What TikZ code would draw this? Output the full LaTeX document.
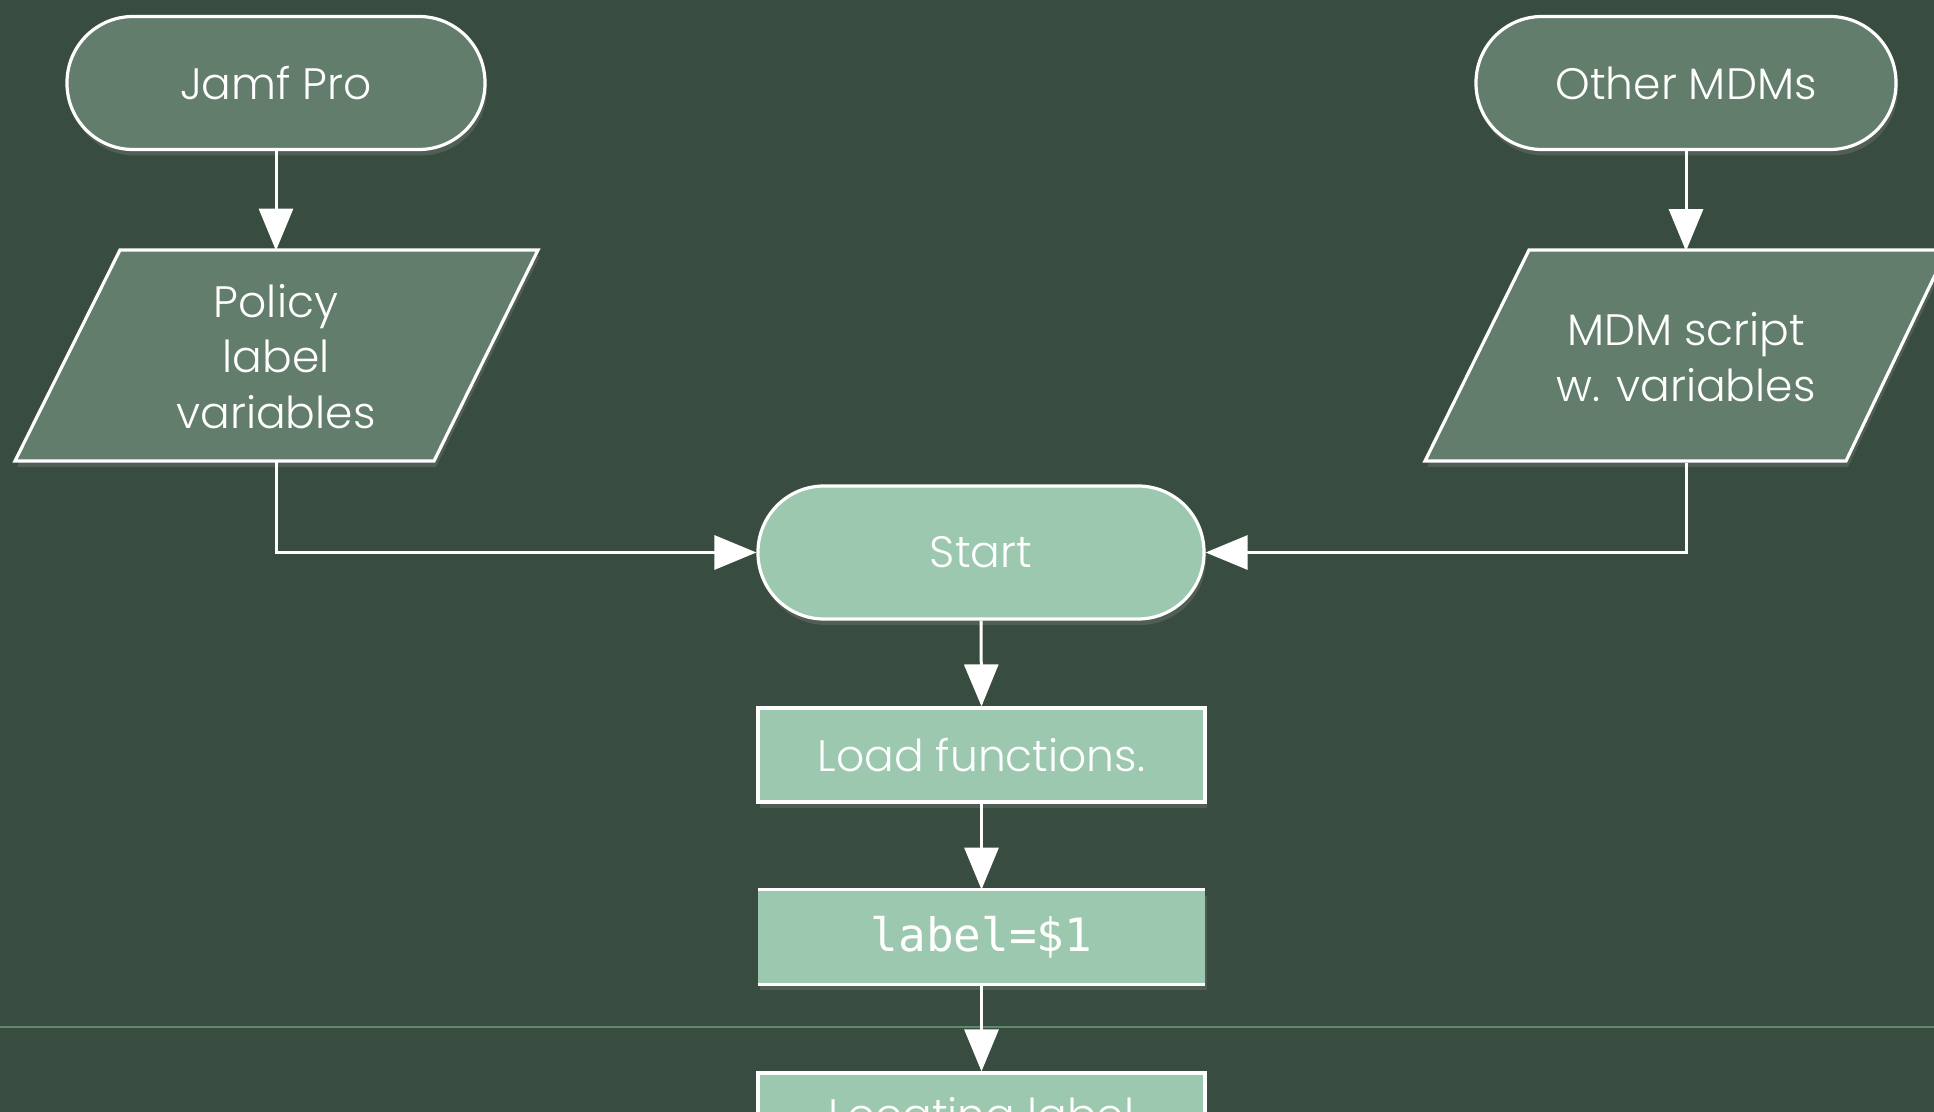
\documentclass[tikz,border=0pt]{standalone}
\usepackage{fontspec}
\setmainfont{Poppins}[UprightFont={* Light}]
\setmonofont{DejaVu Sans Mono}
\usetikzlibrary{arrows.meta,shadows,calc}
\definecolor{bg}{HTML}{384C40}
\definecolor{darkfill}{HTML}{627D6B}
\definecolor{lightfill}{HTML}{9BC8AE}
\definecolor{sepline}{HTML}{5E8A6E}
\tikzset{
  shade/.style={drop shadow={opacity=0.35,shadow xshift=1pt,shadow yshift=-3pt}},
  stadium/.style={draw=white,line width=1.6pt,rounded corners=33pt,minimum height=66.5pt,
    text=white,font=\fontsize{22}{27.75}\selectfont,align=center,shade},
  procbox/.style={rectangle,fill=lightfill,minimum width=223.5pt,minimum height=47pt,
    text=white,font=\fontsize{22}{27.75}\selectfont,align=center},
  anchorbox/.style={rectangle,minimum width=2pt,minimum height=105.5pt,inner sep=0pt,
    text=white,font=\fontsize{22}{27.75}\selectfont,align=center},
  datashape/.style={draw=white,line width=1.6pt,fill=darkfill,shade},
  flow/.style={draw=white,line width=1.5pt,-{Triangle[length=21pt,width=17pt]}},
}
\begin{document}
\begin{tikzpicture}[x=0.5pt,y=-0.5pt]
\useasboundingbox (0,0) rectangle (1934,1112);
\clip (0,0) rectangle (1934,1112);
\fill[bg] (0,0) rectangle (1934,1112);
\draw[sepline,line width=1.2pt] (0,1027) -- (1934,1027);

% top terminals
\node[stadium,fill=darkfill,minimum width=209pt] (jamf) at (276,83) {Jamf Pro};
\node[stadium,fill=darkfill,minimum width=210pt] (other) at (1686,83) {Other MDMs};

% data parallelograms
\path[datashape] (120,250) -- (538,250) -- (434,461) -- (15,461) -- cycle;
\node[anchorbox] (policy) at (276,356.5) {Policy\\label\\variables};
\path[datashape] (1529,250) -- (1947,250) -- (1846,461) -- (1425,461) -- cycle;
\node[anchorbox] (mdm) at (1686,357) {MDM script\\w. variables};

% start
\node[stadium,fill=lightfill,minimum width=223pt] (start) at (981,552.5) {Start};

% process boxes
\node[procbox,draw=white,line width=1.6pt,shade] (load) at (981.5,755) {Load functions.};
\node[procbox,shade] (lab) at (981.5,937) {\fontsize{23}{26}\ttfamily label=\$1};
\draw[white,line width=1.6pt] (lab.north west) -- (lab.north east);
\draw[white,line width=1.6pt] (lab.south west) -- (lab.south east);
\node[procbox,draw=white,line width=1.6pt,shade] (loc) at (981.5,1120) {Locating label};

% connectors
\draw[flow] (jamf.south) -- (policy.north);
\draw[flow] (other.south) -- (mdm.north);
\draw[flow] (policy.south) |- (start.west);
\draw[flow] (mdm.south) |- (start.east);
\draw[flow] (start.south) -- (load.north);
\draw[flow] (load.south) -- (lab.north);
\draw[flow] (lab.south) -- (loc.north);
\end{tikzpicture}
\end{document}
